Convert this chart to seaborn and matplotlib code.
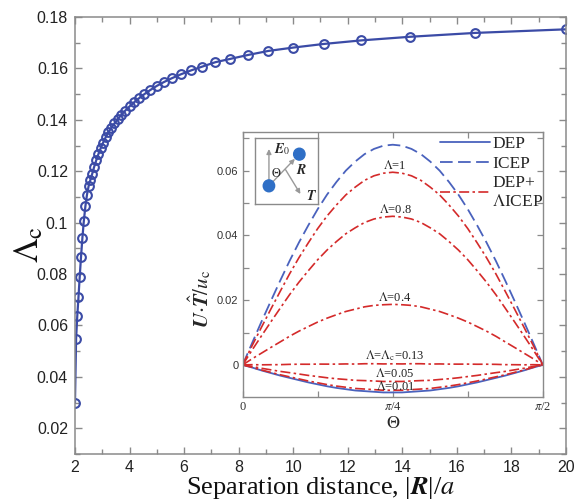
import numpy as np
import matplotlib
matplotlib.use("Agg")
import matplotlib.pyplot as plt
from matplotlib.ticker import MultipleLocator, FixedLocator, FixedFormatter
from matplotlib.patches import Circle
import seaborn as sns

# Critical ratio Lambda_c against particle separation |R|/a
sep = [2.000, 2.041, 2.083, 2.128, 2.174, 2.222, 2.273, 2.326, 2.381, 2.439,
       2.500, 2.564, 2.632, 2.703, 2.778, 2.857, 2.941, 3.030, 3.125, 3.226,
       3.333, 3.448, 3.571, 3.704, 3.846, 4.000, 4.167, 4.348, 4.545, 4.762,
       5.000, 5.263, 5.556, 5.882, 6.250, 6.667, 7.143, 7.692, 8.333, 9.091,
       10.000, 11.111, 12.500, 14.286, 16.667, 20.000]
lam_c = [0.0299, 0.0548, 0.0635, 0.0710, 0.0790, 0.0868, 0.0942, 0.1008, 0.1063, 0.1108,
         0.1142, 0.1166, 0.1190, 0.1217, 0.1242, 0.1266, 0.1289, 0.1311, 0.1332, 0.1351,
         0.1369, 0.1386, 0.1403, 0.1420, 0.1436, 0.1452, 0.1468, 0.1484, 0.1500, 0.1516,
         0.1532, 0.1547, 0.1562, 0.1577, 0.1592, 0.1607, 0.1624, 0.1637, 0.1652, 0.1668,
         0.1681, 0.1695, 0.1709, 0.1723, 0.1738, 0.1752]

# Inset: translational velocity along T versus orientation angle Theta
theta = np.linspace(0.0, np.pi / 2, 33)
icep_half = [0.0, 0.0067, 0.0133, 0.0197, 0.0260, 0.0321, 0.0378, 0.0431, 0.0481,
             0.0526, 0.0565, 0.0600, 0.0628, 0.0651, 0.0667, 0.0677, 0.0680]
dep_half = [0.0, -0.0008, -0.0017, -0.0025, -0.0033, -0.0040, -0.0047, -0.0054, -0.0060,
            -0.0066, -0.0071, -0.0075, -0.0079, -0.0081, -0.0083, -0.0085, -0.0085]
icep = np.array(icep_half + icep_half[-2::-1])
dep = np.array(dep_half + dep_half[-2::-1])
lambdas = [1.0, 0.8, 0.4, 0.13, 0.05, 0.01]
lambda_labels = [r"$\Lambda$=1", r"$\Lambda$=0.8", r"$\Lambda$=0.4",
                 r"$\Lambda$=$\Lambda_\mathrm{c}$=0.13", r"$\Lambda$=0.05", r"$\Lambda$=0.01"]
label_gap = [0.0000, 0.0000, 0.0000, 0.0003, 0.0005, -0.0008]

sns.set_theme(style="ticks")
plt.rcParams["font.family"] = ["Liberation Sans", "DejaVu Sans"]
plt.rcParams["mathtext.fontset"] = "stix"
SERIF = ["Liberation Serif", "DejaVu Serif"]

blue = "#3b4ba6"
dash_blue = "#4a62bd"
red = "#d42a2a"
grey = "#8a8a8a"

fig = plt.figure(figsize=(5.75, 5.01), dpi=100)
ax = fig.add_axes([0.1304, 0.0938, 0.8539, 0.8723])

sns.lineplot(x=sep, y=lam_c, ax=ax, color=blue, lw=1.6, marker="o", markersize=6.3,
             markerfacecolor="none", markeredgecolor=blue, markeredgewidth=1.5)
ax.set_xlim(2, 20)
ax.set_ylim(0.01, 0.18)
ax.xaxis.set_major_locator(MultipleLocator(2))
ax.xaxis.set_minor_locator(MultipleLocator(1))
ax.yaxis.set_major_locator(FixedLocator([0.02, 0.04, 0.06, 0.08, 0.1, 0.12, 0.14, 0.16, 0.18]))
ax.yaxis.set_major_formatter(FixedFormatter(["0.02", "0.04", "0.06", "0.08", "0.1",
                                             "0.12", "0.14", "0.16", "0.18"]))
ax.yaxis.set_minor_locator(MultipleLocator(0.01))
ax.tick_params(which="both", direction="in", top=True, right=True, color=grey,
               labelsize=11.5, labelcolor="#222222", pad=5)
ax.tick_params(axis="x", pad=4)
ax.tick_params(which="major", length=5, width=1)
ax.tick_params(which="minor", length=3.5, width=1)
for s in ax.spines.values():
    s.set_color(grey)
    s.set_linewidth(1.1)
ax.set_xlabel("")
ax.set_ylabel("")
fig.text(0.557, 0.013, r"Separation distance, |$\mathbfit{R}$|/$a$", family=SERIF,
         fontsize=19, ha="center", va="baseline", color="#111111")
fig.text(0.050, 0.512, r"$\Lambda_\mathrm{c}$", fontsize=25, rotation=90,
         ha="center", va="center", color="#111111")

# Inset axes
ax_in = fig.add_axes([0.422, 0.207, 0.522, 0.530])
ax_in.set_facecolor("white")
sns.lineplot(x=theta, y=dep, ax=ax_in, color=dash_blue, lw=1.3, label="DEP")
sns.lineplot(x=theta, y=icep, ax=ax_in, color=dash_blue, lw=1.3, label="ICEP",
             linestyle=(0, (7, 3)))
for i, lam in enumerate(lambdas):
    combo = dep + lam * icep
    sns.lineplot(x=theta, y=combo, ax=ax_in, color=red, lw=1.2,
                 linestyle=(0, (6, 2, 1.5, 2)),
                 label="DEP+\n$\\Lambda$ICEP" if i == 0 else None)
    extreme = combo.max() if combo.max() > abs(combo.min()) else combo.min()
    ax_in.text(np.pi / 4 + 0.012, extreme + label_gap[i], lambda_labels[i], family=SERIF,
               fontsize=9, ha="center", va="bottom", color="#222222")

ax_in.set_xlim(0, np.pi / 2)
ax_in.set_ylim(-0.01, 0.072)
ax_in.xaxis.set_major_locator(FixedLocator([0, np.pi / 4, np.pi / 2]))
ax_in.xaxis.set_major_formatter(FixedFormatter(["0", r"$\pi$/4", r"$\pi$/2"]))
ax_in.xaxis.set_minor_locator(FixedLocator([np.pi / 8, 3 * np.pi / 8]))
ax_in.yaxis.set_major_locator(FixedLocator([0, 0.02, 0.04, 0.06]))
ax_in.yaxis.set_major_formatter(FixedFormatter(["0", "0.02", "0.04", "0.06"]))
ax_in.yaxis.set_minor_locator(FixedLocator([0.01, 0.03, 0.05, 0.07]))
ax_in.tick_params(which="both", direction="in", top=True, right=True, color=grey,
                  labelcolor="#333333", pad=3)
ax_in.tick_params(axis="y", labelsize=8)
ax_in.tick_params(axis="x", labelsize=9)
for lab in ax_in.get_xticklabels():
    lab.set_family(SERIF)
ax_in.tick_params(which="major", length=4, width=0.9)
ax_in.tick_params(which="minor", length=4, width=0.9)
for s in ax_in.spines.values():
    s.set_color(grey)
    s.set_linewidth(1.0)
ax_in.set_xlabel(r"$\Theta$", fontsize=13, labelpad=1)
ax_in.set_ylabel(r"$\mathbfit{U}{\cdot}\hat{\mathbfit{T}}/u_\mathrm{c}$", fontsize=15)
ax_in.yaxis.set_label_coords(-0.10, 0.37)
leg = ax_in.legend(loc="upper right", bbox_to_anchor=(1.025, 1.01), frameon=False,
                   handlelength=2.9, handletextpad=0.1, labelspacing=0.2,
                   borderaxespad=0.0, prop={"family": SERIF, "size": 12.5})

# Geometry sketch in the inset corner
sk = fig.add_axes([0.4435, 0.5922, 0.1101, 0.1317])
sk.set_xlim(0, 1)
sk.set_ylim(0, 1)
sk.set_xticks([])
sk.set_yticks([])
for s in sk.spines.values():
    s.set_color(grey)
    s.set_linewidth(1.0)
arrow_kw = dict(arrowstyle="-|>", color="#999999", lw=1.0, mutation_scale=7)
p1 = (0.22, 0.28)
p2 = (0.70, 0.76)
sk.annotate("", xy=(0.22, 0.88), xytext=p1, arrowprops=arrow_kw)
sk.annotate("", xy=(0.66, 0.72), xytext=p1, arrowprops=arrow_kw)
sk.annotate("", xy=(0.74, 0.12), xytext=(0.46, 0.56), arrowprops=arrow_kw)
sk.add_patch(Circle(p1, 0.09, color="#2f6fc6", transform=sk.transData, zorder=3))
sk.add_patch(Circle(p2, 0.09, color="#2f6fc6", transform=sk.transData, zorder=3))
sk.text(0.30, 0.84, r"$\mathbfit{E}_0$", fontsize=10, ha="left", va="center")
sk.text(0.64, 0.52, r"$\mathbfit{R}$", fontsize=10, ha="left", va="center")
sk.text(0.80, 0.12, r"$\mathbfit{T}$", fontsize=10, ha="left", va="center")
sk.text(0.34, 0.47, r"$\Theta$", fontsize=9, ha="center", va="center")

fig.savefig("out.png", dpi=100)
